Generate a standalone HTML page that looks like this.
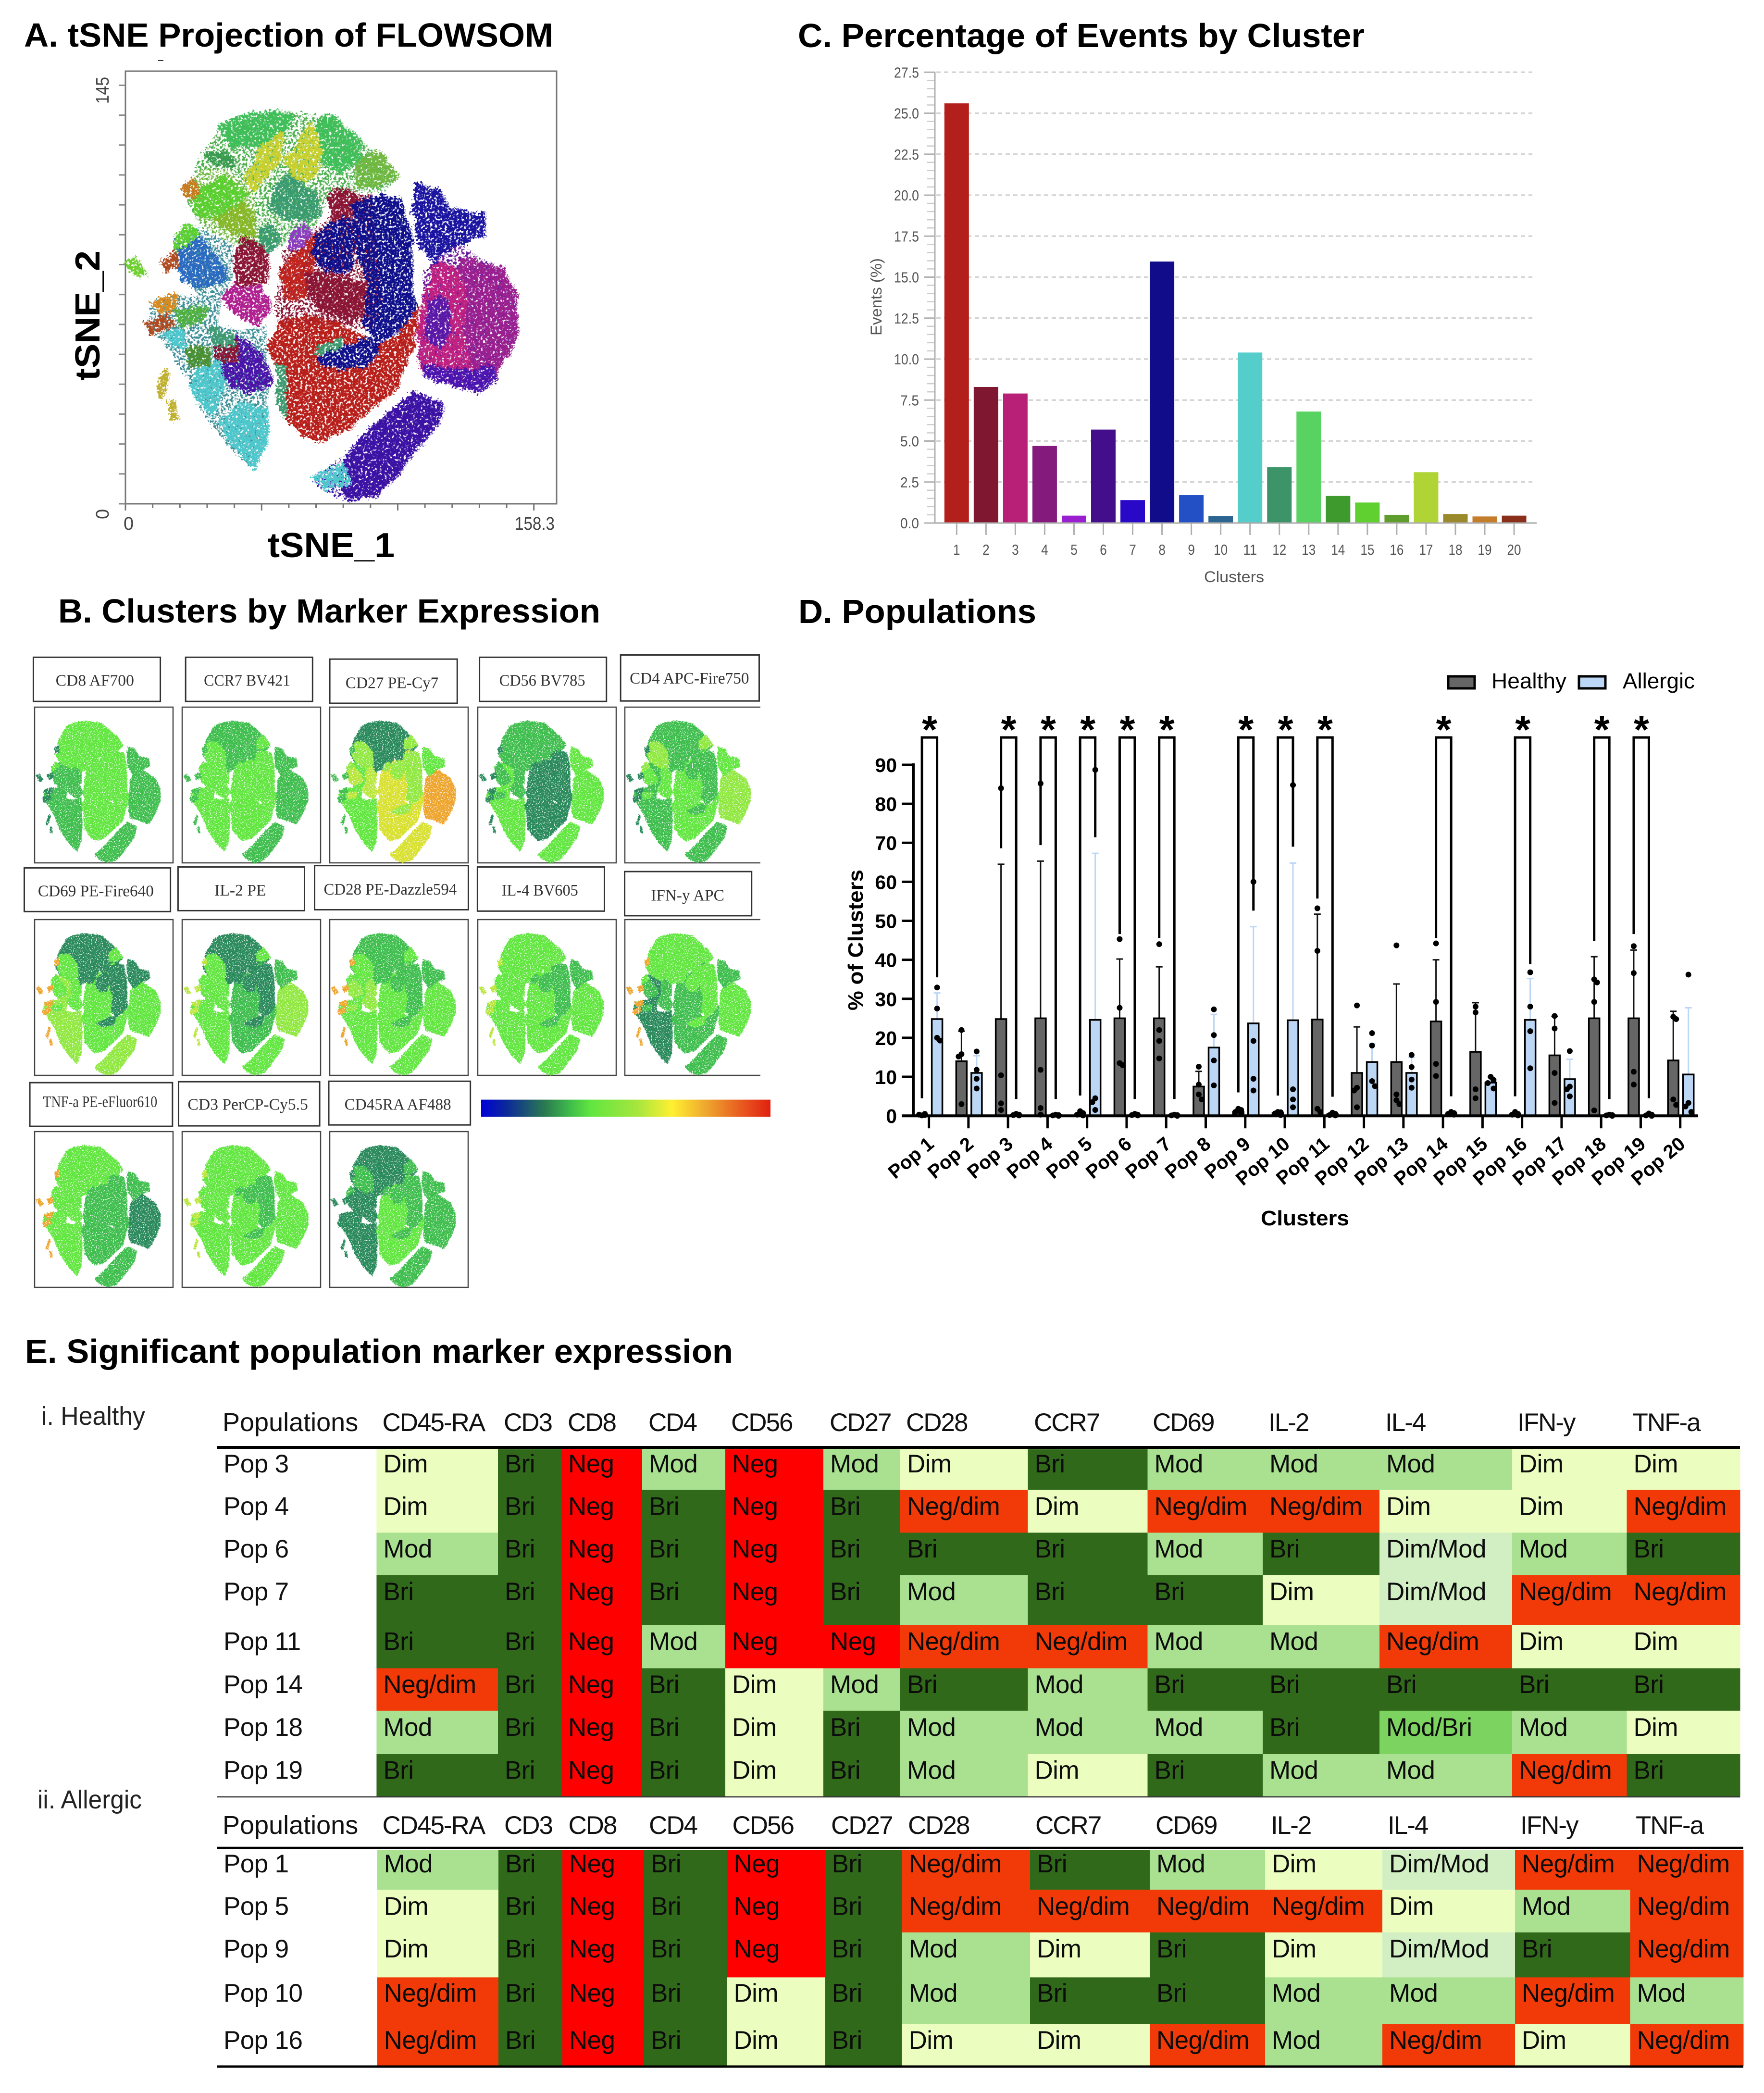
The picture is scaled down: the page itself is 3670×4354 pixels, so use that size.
<!DOCTYPE html>
<html lang="en">
<head>
<meta charset="utf-8">
<title>Flow cytometry figure: FLOWSOM clusters</title>
<style>
html,body{margin:0;padding:0;background:#fff;}
svg{display:block;}
text{font-family:"Liberation Sans",sans-serif;}
.ttl{font-weight:bold;font-size:70px;fill:#000;}
</style>
</head>
<body>
<svg id="fig" xmlns="http://www.w3.org/2000/svg" width="3670" height="4354" viewBox="0 0 3670 4354">
<defs>
<filter id="speckle-main" x="-4%" y="-4%" width="108%" height="108%" color-interpolation-filters="sRGB">
<feTurbulence type="fractalNoise" baseFrequency="0.035" numOctaves="2" seed="7" result="n0"/>
<feDisplacementMap in="SourceGraphic" in2="n0" scale="20" xChannelSelector="R" yChannelSelector="G" result="d0"/>
<feTurbulence type="fractalNoise" baseFrequency="0.2" numOctaves="2" seed="4" result="n"/>
<feDisplacementMap in="d0" in2="n" scale="22" xChannelSelector="R" yChannelSelector="G" result="d"/>
<feColorMatrix in="n" type="matrix" values="0 0 0 0 0 0 0 0 0 0 0 0 0 0 0 7 0 0 0 -2.2" result="m"/>
<feComposite in="d" in2="m" operator="in"/>
</filter>
<filter id="speckle-sparse" x="-4%" y="-4%" width="108%" height="108%" color-interpolation-filters="sRGB">
<feTurbulence type="fractalNoise" baseFrequency="0.2" numOctaves="2" seed="12" result="n"/>
<feDisplacementMap in="SourceGraphic" in2="n" scale="24" xChannelSelector="R" yChannelSelector="G" result="d"/>
<feColorMatrix in="n" type="matrix" values="0 0 0 0 0 0 0 0 0 0 0 0 0 0 0 8 0 0 0 -3.7" result="m"/>
<feComposite in="d" in2="m" operator="in"/>
</filter>
<filter id="speckle-thumb" x="-4%" y="-4%" width="108%" height="108%" color-interpolation-filters="sRGB">
<feTurbulence type="fractalNoise" baseFrequency="0.4" numOctaves="2" seed="9" result="n"/>
<feDisplacementMap in="SourceGraphic" in2="n" scale="7" xChannelSelector="R" yChannelSelector="G" result="d"/>
<feColorMatrix in="n" type="matrix" values="0 0 0 0 0 0 0 0 0 0 0 0 0 0 0 7 0 0 0 -1.9" result="m"/>
<feComposite in="d" in2="m" operator="in"/>
</filter>
<linearGradient id="expression-gradient" x1="0" x2="1" y1="0" y2="0">
<stop offset="0" stop-color="#0000d8"/><stop offset="0.09" stop-color="#0c2a98"/><stop offset="0.22" stop-color="#2a7a50"/><stop offset="0.31" stop-color="#3fbe4a"/><stop offset="0.38" stop-color="#62e640"/><stop offset="0.54" stop-color="#a6e63e"/><stop offset="0.66" stop-color="#fff030"/><stop offset="0.78" stop-color="#eea52e"/><stop offset="0.9" stop-color="#e85a20"/><stop offset="1" stop-color="#e02010"/>
</linearGradient>
</defs>
<rect x="0" y="0" width="3670" height="4354" fill="#fff"/>

<text class="ttl" x="50" y="97" textLength="1101" lengthAdjust="spacingAndGlyphs">A. tSNE Projection of FLOWSOM</text>
<rect x="318" y="106" width="34" height="18" fill="#fff"/>
<rect x="329" y="125" width="11" height="2" fill="#333"/>
<text class="ttl" x="1660" y="98" textLength="1179" lengthAdjust="spacingAndGlyphs">C. Percentage of Events by Cluster</text>
<text class="ttl" x="121" y="1295" textLength="1128" lengthAdjust="spacingAndGlyphs">B. Clusters by Marker Expression</text>
<text class="ttl" x="1661" y="1296" textLength="495" lengthAdjust="spacingAndGlyphs">D. Populations</text>
<text class="ttl" x="52" y="2835" textLength="1473" lengthAdjust="spacingAndGlyphs">E. Significant population marker expression</text>

<g id="panel-a"></g>
<g id="panel-b"></g>
<g id="panel-c"></g>
<g id="panel-d"></g>
<g id="panel-e"></g>
</svg>

<script>
/* ---------- Panel C data ---------- */
var eventClusters = ["1","2","3","4","5","6","7","8","9","10","11","12","13","14","15","16","17","18","19","20"];
var eventPercent = [25.6,8.3,7.9,4.7,0.45,5.7,1.4,15.95,1.7,0.42,10.4,3.4,6.8,1.65,1.25,0.5,3.1,0.55,0.4,0.45];
var eventColors = ["#b3201c","#801730","#b82077","#851a7d","#9a1fd0","#430d8c","#2a08c8","#100c8a","#2350c5","#2b6590","#55cdcb","#3d9468","#58d260","#3f9a2e","#60d030","#5f9e2c","#b0d435","#9a8a2c","#c47d2a","#8a2f1a"];
var eventTicks = [0,2.5,5,7.5,10,12.5,15,17.5,20,22.5,25,27.5];

/* ---------- Panel D data ---------- */
var popLabels = ["Pop 1","Pop 2","Pop 3","Pop 4","Pop 5","Pop 6","Pop 7","Pop 8","Pop 9","Pop 10","Pop 11","Pop 12","Pop 13","Pop 14","Pop 15","Pop 16","Pop 17","Pop 18","Pop 19","Pop 20"];
var healthyMeans = [0.3,14,24.8,25,0.4,25,25,7.5,1,0.7,24.7,11,13.8,24.2,16.4,0.4,15.5,25,25,14.2];
var allergicMeans = [24.8,11,0.3,0.2,24.6,0.3,0.2,17.5,23.7,24.5,0.4,13.8,11,0.6,8.5,24.6,9.4,0.2,0.3,10.6];
var healthyErrorTops = [0,21.7,64.5,65.3,0,40.2,38.2,11.4,0,0,51.7,22.8,33.8,40,29,0,25.5,40.8,42.5,26.8];
var allergicErrorTops = [31.5,15.4,0,0,67.3,0,0,26,48.5,64.8,0,18.5,15,0,10,35.2,14.5,0,0,27.7];
var healthyPoints = [[0.1,0.2,0.3,0.5],[22,15.8,15.2,3],[84,10.4,3.2,1.5],[85.2,11.8,2,0.3],[1.2,0.7,0.3,0.1],[45.3,27.7,13.5,13],[44,22,19.2,14.7],[12.6,8,5.5,4.2],[1.8,1.5,1,0.7],[1,0.9,0.6,0.2],[53.2,42.3,1.8,1],[28.3,7.2,6.5,2.2],[43.7,5.5,4,3],[44.2,29.2,13.3,10.2],[28,26.5,6.8,4.5],[1,0.5,0.3,0.1],[25.6,22.4,11,3.3],[35,34.2,29.2,1.4],[43.5,36.6,11.3,8],[25.4,24.8,4.2,2.8]];
var allergicPoints = [[32.9,27.5,20,19.3],[16.5,11.8,9.5,7],[0.5,0.3,0.2,0.1],[0.3,0.2,0.1,0],[88.7,4.5,3.5,1.5],[0.5,0.3,0.2,0.1],[0.3,0.2,0.1,0],[27.3,20.7,14.2,7.8],[60,19.2,9.5,6.5],[84.8,6.8,4.2,2.2],[0.8,0.5,0.2,0.1],[21.2,18,8.9,7.6],[15.6,12.5,9.3,7.2],[1,0.7,0.5,0.3],[10,9.2,8.4,7],[36.8,28,21.7,12.2],[16.6,7.5,6.8,5],[0.3,0.2,0.1,0],[0.6,0.3,0.1,0],[36.2,3.3,2.4,1]];
var significantPops = [1,3,4,5,6,7,9,10,11,14,16,18,19];
var bracketHealthyEnds = [4.5,68.6,69.4,5.2,46.6,45.6,6,5.2,55.7,45.6,5,44.8,46.6];
var bracketAllergicEnds = [35.5,4.3,4.3,71.4,4.3,4.3,52.6,69,4.9,5,38.9,4.3,4.5];
var popAxisTicks = [0,10,20,30,40,50,60,70,80,90];

/* ---------- Panel E data ---------- */
var markerColumns = ["CD45-RA","CD3","CD8","CD4","CD56","CD27","CD28","CCR7","CD69","IL-2","IL-4","IFN-y","TNF-a"];
var healthyRowNames = ["Pop 3","Pop 4","Pop 6","Pop 7","Pop 11","Pop 14","Pop 18","Pop 19"];
var healthyLevels = [
["Dim","Bri","Neg","Mod","Neg","Mod","Dim","Bri","Mod","Mod","Mod","Dim","Dim"],
["Dim","Bri","Neg","Bri","Neg","Bri","Neg/dim","Dim","Neg/dim","Neg/dim","Dim","Dim","Neg/dim"],
["Mod","Bri","Neg","Bri","Neg","Bri","Bri","Bri","Mod","Bri","Dim/Mod","Mod","Bri"],
["Bri","Bri","Neg","Bri","Neg","Bri","Mod","Bri","Bri","Dim","Dim/Mod","Neg/dim","Neg/dim"],
["Bri","Bri","Neg","Mod","Neg","Neg","Neg/dim","Neg/dim","Mod","Mod","Neg/dim","Dim","Dim"],
["Neg/dim","Bri","Neg","Bri","Dim","Mod","Bri","Mod","Bri","Bri","Bri","Bri","Bri"],
["Mod","Bri","Neg","Bri","Dim","Bri","Mod","Mod","Mod","Bri","Mod/Bri","Mod","Dim"],
["Bri","Bri","Neg","Bri","Dim","Bri","Mod","Dim","Bri","Mod","Mod","Neg/dim","Bri"]];
var allergicRowNames = ["Pop 1","Pop 5","Pop 9","Pop 10","Pop 16"];
var allergicLevels = [
["Mod","Bri","Neg","Bri","Neg","Bri","Neg/dim","Bri","Mod","Dim","Dim/Mod","Neg/dim","Neg/dim"],
["Dim","Bri","Neg","Bri","Neg","Bri","Neg/dim","Neg/dim","Neg/dim","Neg/dim","Dim","Mod","Neg/dim"],
["Dim","Bri","Neg","Bri","Neg","Bri","Mod","Dim","Bri","Dim","Dim/Mod","Bri","Neg/dim"],
["Neg/dim","Bri","Neg","Bri","Dim","Bri","Mod","Bri","Bri","Mod","Mod","Neg/dim","Mod"],
["Neg/dim","Bri","Neg","Bri","Dim","Bri","Dim","Dim","Neg/dim","Mod","Neg/dim","Dim","Neg/dim"]];

/* ---------- Panels A/B data: cluster density outlines in tSNE units ---------- */
var tsneUnderlay = [
{g:"T",c:"#4fb050",p:[[28,118],[38,131],[60,136],[80,134],[92,126],[106,113],[100,108],[90,108],[80,108],[75,97],[62,90],[52,88],[42,90],[30,96],[24,104]]},
{g:"E",c:"#70b840",p:[[24,108],[30,97],[42,90],[52,92],[50,108],[40,116],[30,116]]},
{g:"W",c:"#3f8f98",p:[[19,92],[28,96],[42,90],[42,78],[38,72],[36,62],[45,60],[55,62],[56,40],[55,22],[50,12],[40,20],[30,32],[24,44],[15,56],[9,62],[11,70],[19,72],[28,72]]},
{g:"C",c:"#8a1535",p:[[58,68],[62,88],[75,96],[89,106],[96,108],[100,70],[96,60],[80,62],[60,62]]},
{g:"R",c:"#6a1a9a",p:[[114,50],[116,80],[120,85],[129,90],[146,81],[152,70],[152,60],[147,50],[138,38],[124,42],[116,44]]},
{g:"B",c:"#3c12a5",p:[[73,8],[84,16],[100,30],[112,39],[123,35],[120,25],[106,10],[98,3],[87,1],[78,4]]}
];
var tsneRegions = [
{g:"R",c:"#9a1f8f",p:[[130,85],[146,81],[152,71],[152,60.5],[147.5,51],[141,42],[137,39],[126,42],[121,58],[124,76]]},
{g:"R",c:"#c0207f",p:[[115,67],[120,84],[129,81],[132,71],[130.5,58],[133.5,47.5],[124,46],[115,47],[114,54]]},
{g:"R",c:"#4a14b0",p:[[116,48],[126,46],[143,47],[142,42],[137,39],[124,42],[116,44]]},
{g:"R",c:"#5a18a8",p:[[118,70],[124,72],[126,60],[122,54],[117,58]]},
{g:"K",c:"#1a14a0",p:[[113,111],[121,109],[126,102],[138,100],[139,93],[129,90],[120,84],[113.5,92],[112,102]]},
{g:"C",c:"#b81f1a",p:[[56,55],[61,63],[73,65],[86,60.5],[98,55],[106,58],[113,67],[113,60.5],[109,50],[106,41],[95,33],[83,24],[72,22],[64,28],[60,37],[59.5,46]]},
{g:"C",c:"#c0241c",p:[[60,81],[69,89],[76.5,94],[73,84],[70,72],[62.5,71]]},
{g:"C",c:"#8a1535",p:[[70,80],[83,79],[93.5,76],[95,68],[87,63],[76.5,67],[72,72]]},
{g:"T",c:"#8a1535",p:[[79.5,107],[87,109],[92,104.5],[84,97],[79.5,100.5]]},
{g:"N",c:"#10108c",p:[[89,104.5],[99.5,107],[107,106],[110.5,94],[111,81],[111,71],[112,67],[106,60.5],[98,56.5],[92.5,63],[95,76],[92,81],[90,93]]},
{g:"N",c:"#10108c",p:[[75,94],[84,99],[89,97],[89.5,89],[86,81],[78,81],[73,86.5]]},
{g:"N",c:"#10108c",p:[[75,50],[87,55],[98,57],[95,49],[84,47],[75,49.5]]},
{g:"C",c:"#3f9a70",p:[[74,53],[84,58],[84.5,55],[76.5,52]]},
{g:"N",c:"#8b3fc0",p:[[64,93],[70,97],[73,94],[69,89],[64,89]]},
{g:"C",c:"#3f9a70",p:[[59,47.5],[62,47.5],[62,31],[60,32]]},
{g:"B",c:"#3c12a5",p:[[86,16.5],[99.5,29.5],[112,38.5],[123,34],[120,25.5],[112,20],[106,11],[98,3.5],[87,1.5],[83,7.5]]},
{g:"B",c:"#4ec8cc",p:[[73,9],[84,14],[87,7.5],[78,5.5]]},
{g:"W",c:"#4ec8cc",p:[[37,28],[44,34.5],[55,33],[55,21.5],[50,12.5],[42.5,20]]},
{g:"W",c:"#4ec8cc",p:[[25.5,40],[28.5,47.5],[38,50],[38,40],[33,31]]},
{g:"W",c:"#4ec8cc",p:[[15.5,58],[21,60.5],[24,54],[18,54]]},
{g:"W",c:"#4a14a8",p:[[38,50],[44,58],[53,51],[56.5,41],[47,38.5],[39.5,42.5]]},
{g:"W",c:"#8a1535",p:[[35,54],[44,56.5],[42.5,50],[36,50]]},
{g:"X",c:"#b02090",p:[[38,71],[42.5,76],[53,75],[56.5,68],[52,62],[42.5,66]]},
{g:"X",c:"#8a1535",p:[[42.5,86.5],[47,92],[55,89],[55,77],[44,76]]},
{g:"X",c:"#2a6ac0",p:[[19.5,86.5],[27,92],[33,88],[38.5,81],[38,78],[28.5,75],[22.5,77.5]]},
{g:"T",c:"#3fbf5a",p:[[37,130.5],[45.5,134],[59.5,136],[65.5,134],[59.5,126.5],[50,124],[41,123.5]]},
{g:"T",c:"#3fbf5a",p:[[75,133],[79.5,134],[90,126.5],[92,120],[84,115],[76.5,119],[75,125]]},
{g:"T",c:"#3a9a50",p:[[31.5,121.5],[38,121.5],[42.5,117.5],[36,117.5]]},
{g:"E",c:"#70b840",p:[[90,117.5],[98,122.5],[106,113.5],[98,110],[90,110]]},
{g:"T",c:"#c8d030",p:[[47,113.5],[53,124],[61,128],[59.5,119],[50,108.5]]},
{g:"T",c:"#c8d030",p:[[62.5,119],[72,132],[76.5,123],[75,115],[65.5,111]]},
{g:"E",c:"#88b828",p:[[35,99.5],[41,107],[48.5,102],[50,93],[42.5,93]]},
{g:"T",c:"#3a9a70",p:[[58,108.5],[62.5,113.5],[73.5,108.5],[75,99.5],[62.5,98],[56.5,102]]},
{g:"T",c:"#3a9a70",p:[[52,94],[58,97],[59.5,90],[55,87.5]]},
{g:"E",c:"#5ad030",p:[[25.5,107],[38,113.5],[47,107],[38,100.5],[28.5,99.5]]},
{g:"E",c:"#5ad030",p:[[19.5,91.5],[24,97],[28.5,93],[19.5,88]]},
{g:"F",c:"#6ed030",p:[[0.5,84],[4,85],[8,80],[4.5,78.5]]},
{g:"F",c:"#c87a20",p:[[23,110],[27,112.5],[28.5,107],[24,106]]},
{g:"F",c:"#d88a20",p:[[10,69.5],[19.5,72],[19.5,67],[13,67]]},
{g:"F",c:"#b04a20",p:[[8,62],[16,65.5],[18,62],[10,58.5]]},
{g:"F",c:"#b04a20",p:[[14,84.5],[19.5,86.5],[21,82.5],[16,80.5]]},
{g:"F",c:"#c0b030",p:[[12.5,38],[16,46],[17,45],[14,37]]},
{g:"F",c:"#c0b030",p:[[17,34.5],[18.5,34.5],[19.5,29.5],[18,29.5]]},
{g:"X",c:"#4fb040",p:[[19.5,67],[31.5,68],[30,63],[21,62]]},
{g:"W",c:"#3f9a70",p:[[33,60.5],[42.5,59],[42.5,55],[35,55]]},
{g:"W",c:"#4a9030",p:[[24,53],[33,54],[31.5,49],[25.5,48]]}
];
var markerNames = ["CD8 AF700","CCR7 BV421","CD27 PE-Cy7","CD56 BV785","CD4 APC-Fire750","CD69 PE-Fire640","IL-2 PE","CD28 PE-Dazzle594","IL-4 BV605","IFN-y APC","TNF-a PE-eFluor610","CD3 PerCP-Cy5.5","CD45RA AF488"];
var markerExpression = [
{T:"L",E:"L",N:"L",C:"L",R:"M",K:"M",B:"M",W:"M",X:"M",F:"D"},
{T:"M",E:"L",N:"L",C:"L",R:"M",K:"M",B:"M",W:"L",X:"L",F:"M"},
{T:"D",E:"H",N:"H",C:"A",R:"O",K:"L",B:"A",W:"L",X:"Y",F:"M"},
{T:"M",E:"M",N:"D",C:"D",R:"L",K:"L",B:"L",W:"L",X:"M",F:"D"},
{T:"M",E:"H",N:"M",C:"L",R:"H",K:"L",B:"M",W:"M",X:"L",F:"D"},
{T:"D",E:"L",N:"D",C:"L",R:"L",K:"D",B:"H",W:"H",X:"L",F:"O"},
{T:"D",E:"L",N:"D",C:"M",R:"H",K:"M",B:"L",W:"L",X:"L",F:"Y"},
{T:"M",E:"L",N:"M",C:"L",R:"L",K:"M",B:"L",W:"L",X:"H",F:"O"},
{T:"L",E:"L",N:"M",C:"L",R:"L",K:"M",B:"L",W:"L",X:"L",F:"Y"},
{T:"L",E:"L",N:"L",C:"M",R:"L",K:"M",B:"M",W:"D",X:"M",F:"O"},
{T:"L",E:"L",N:"M",C:"M",R:"D",K:"M",B:"M",W:"L",X:"L",F:"O"},
{T:"L",E:"L",N:"M",C:"L",R:"L",K:"L",B:"L",W:"L",X:"L",F:"Y"},
{T:"D",E:"M",N:"M",C:"L",R:"M",K:"M",B:"M",W:"D",X:"D",F:"D"}
];

var NS = "http://www.w3.org/2000/svg";
function mk(tag, attrs, parent, txt) {
  var e = document.createElementNS(NS, tag);
  for (var k in attrs) e.setAttribute(k, attrs[k]);
  if (txt !== undefined) e.textContent = txt;
  if (parent) parent.appendChild(e);
  return e;
}

/* ================= Panel A ================= */
(function () {
  var root = document.getElementById("panel-a");
  function tx(t) { return 261 + t / 158.3 * 849.7; }
  function ty(t) { return 1048 - t / 145 * 870.6; }
  function ptsOf(r) { return r.p.map(function (q) { return tx(q[0]).toFixed(1) + "," + ty(q[1]).toFixed(1); }).join(" "); }
  var frame = mk("rect", {x:261,y:148,width:897,height:900,fill:"#fff",stroke:"#777","stroke-width":3}, root);
  
  
  var under = mk("g", {filter:"url(#speckle-sparse)"}, root);
  
  
  tsneUnderlay.forEach(function (r) {
    var poly0 = mk("polygon", {points:ptsOf(r), fill:r.c}, under);
    
    
  });
  var cloud = mk("g", {filter:"url(#speckle-main)"}, root);
  
  
  tsneRegions.forEach(function (r) {
    var poly = mk("polygon", {points:ptsOf(r), fill:r.c, stroke:r.c, "stroke-width":8, "stroke-linejoin":"round"}, cloud);
    
    
  });
  var i;
  for (i = 0; i <= 15; i++) {
    var v = 158.3 * i / 15;
    var tk = mk("line", {x1:tx(v),x2:tx(v),y1:1048,y2:1048+(i % 5 === 0 ? 14 : 9),stroke:"#777","stroke-width":3}, root);
    
    
  }
  for (i = 0; i <= 14; i++) {
    var w = 145 * i / 14;
    var tk2 = mk("line", {x1:261-14,x2:261,y1:ty(w),y2:ty(w),stroke:"#888","stroke-width":3}, root);
    
    
  }
  var a = mk("text", {x:257,y:1102,"font-size":38,fill:"#444"}, root, "0");
  
  
  var b = mk("text", {x:1071,y:1102,"font-size":38,fill:"#444",textLength:83,lengthAdjust:"spacingAndGlyphs"}, root, "158.3");
  
  
  var c = mk("text", {transform:"translate(226,216) rotate(-90)","font-size":38,fill:"#444",textLength:56,lengthAdjust:"spacingAndGlyphs"}, root, "145");
  
  
  var d = mk("text", {transform:"translate(226,1080) rotate(-90)","font-size":38,fill:"#444"}, root, "0");
  
  
  var e = mk("text", {x:557,y:1159,"font-size":72,"font-weight":"bold",fill:"#000",textLength:264,lengthAdjust:"spacingAndGlyphs"}, root, "tSNE_1");
  
  
  var f = mk("text", {transform:"translate(207,792) rotate(-90)","font-size":72,"font-weight":"bold",fill:"#000",textLength:271,lengthAdjust:"spacingAndGlyphs"}, root, "tSNE_2");
  
  
})();

/* ================= Panel B ================= */
(function () {
  var root = document.getElementById("panel-b");
  var palette = {L:"#62e640",M:"#3fbe4e",D:"#2a8a5c",Y:"#b9e63c",O:"#eea52e",A:"#d8e030",H:"#90e840"};
  var colX = [72,379,686,994,1300];
  var rowY = [1471,1913,2354];
  var labelBoxes = [[66,154,317,250,110,265,216],[367,154,618,250,403,574,216],[652,158,904,254,683,867,221],[948,154,1199,250,987,1157,216],[1227,149,1501,249,1245,1481,211],[48,612,337,707,75,304,674],[352,610,602,705,424,526,672],[622,607,926,703,640,903,670],[944,610,1195,706,992,1143,672],[1235,620,1486,716,1287,1432,683],[59,1079,341,1174,85,311,1132],[353,1077,632,1173,371,609,1138],[650,1076,930,1171,681,892,1138]];
  function lx(z) { return z * 1.0523; }
  function ly(z) { return 1220 + z * 0.9566; }
  var thumbAll = tsneUnderlay.concat(tsneRegions);
  markerNames.forEach(function (name, i) {
    var col = i % 5, row = Math.floor(i / 5);
    var bx = colX[col], by = rowY[row], bw = col === 4 ? 282 : 288, bh = 324;
    var map = mk("g", {}, root);
    
    
    var frame;
    if (col === 4) {
      frame = mk("path", {d:"M"+(bx+bw)+" "+by+"H"+bx+"V"+(by+bh)+"H"+(bx+bw),fill:"#fff",stroke:"#444","stroke-width":2.5}, map);
    } else {
      frame = mk("rect", {x:bx,y:by,width:bw,height:bh,fill:"#fff",stroke:"#444","stroke-width":2.5}, map);
    }
    
    
    var cloud = mk("g", {filter:"url(#speckle-thumb)"}, map);
    
    
    var levels = markerExpression[i];
    thumbAll.forEach(function (r) {
      var pts = r.p.map(function (q) {
        var px = bx + 4.2 + 1.694 * (q[0] - 0.5);
        var py = by + (31 + (136 - q[1]) * 2.268) * 0.9566;
        return px.toFixed(1) + "," + py.toFixed(1);
      }).join(" ");
      var col2 = palette[levels[r.g]];
      var poly = mk("polygon", {points:pts, fill:col2, stroke:col2, "stroke-width":3, "stroke-linejoin":"round"}, cloud);
      
      
    });
    var b = labelBoxes[i];
    var box = mk("rect", {x:lx(b[0]),y:ly(b[1]),width:lx(b[2])-lx(b[0]),height:ly(b[3])-ly(b[1]),fill:"#fff",stroke:"#333","stroke-width":3}, root);
    
    
    var t = mk("text", {x:lx(b[4]),y:ly(b[6]),"font-size":34,fill:"#333",textLength:lx(b[5])-lx(b[4]),lengthAdjust:"spacingAndGlyphs",style:"font-family:'Liberation Serif',serif"}, root, name);
    
    
  });
  var bar = mk("rect", {x:1001,y:2287.6,width:602,height:35.4,fill:"url(#expression-gradient)"}, root);
  
  
})();

/* ================= Panel C ================= */
(function () {
  var root = document.getElementById("panel-c");
  function x(i) { return 1990.3 + 61.04 * i; }
  function y(v) { return 1088 - 34.1 * v; }
  eventTicks.forEach(function (v) {
    if (v > 0) {
      var g = mk("line", {x1:1948,x2:3188,y1:y(v),y2:y(v),stroke:"#d4d4d4","stroke-width":3.5,"stroke-dasharray":"9 7"}, root);
      
      
    }
    var t = mk("line", {x1:1923,x2:1945,y1:y(v),y2:y(v),stroke:"#b0b0b0","stroke-width":3}, root);
    
    
    var s = v.toFixed(1);
    var l = mk("text", {x:1912,y:y(v)+11,"text-anchor":"end","font-size":31,fill:"#555",textLength:s.length*13,lengthAdjust:"spacingAndGlyphs"}, root, s);
    
    
  });
  for (var m = 0; m <= 55; m++) {
    if (m % 5 === 0) continue;
    var mv = m * 0.5;
    var mt = mk("line", {x1:1929,x2:1945,y1:y(mv),y2:y(mv),stroke:"#ccc","stroke-width":2.5}, root);
    
    
  }
  var ax = mk("line", {x1:1945,x2:1945,y1:y(27.5),y2:y(0),stroke:"#b0b0b0","stroke-width":3}, root);
  
  
  eventPercent.forEach(function (v, i) {
    var r = mk("rect", {x:x(i)-25.5,y:y(v),width:51,height:y(0)-y(v),fill:eventColors[i]}, root);
    
    
    var t = mk("line", {x1:x(i),x2:x(i),y1:y(0),y2:y(0)+25,stroke:"#b0b0b0","stroke-width":3}, root);
    
    
    var n = eventClusters[i];
    var l = mk("text", {x:x(i),y:1154,"text-anchor":"middle","font-size":31,fill:"#555",textLength:n.length*14.5,lengthAdjust:"spacingAndGlyphs"}, root, n);
    
    
  });
  var bx = mk("line", {x1:1945,x2:3197,y1:y(0),y2:y(0),stroke:"#aaa","stroke-width":3}, root);
  
  
  var xt = mk("text", {x:2505,y:1211,"font-size":32,fill:"#555",textLength:125,lengthAdjust:"spacingAndGlyphs"}, root, "Clusters");
  
  
  var yt = mk("text", {transform:"translate(1834,698) rotate(-90)","font-size":32,fill:"#555",textLength:161,lengthAdjust:"spacingAndGlyphs"}, root, "Events (%)");
  
  
})();

/* ================= Panel D ================= */
(function () {
  var root = document.getElementById("panel-d");
  function x(i) { return 1932.6 + 82.27 * i; }
  function y(v) { return 2321.2 - 8.114 * v; }
  var offH = -14.5, offA = 17, barW = 22;
  function errorBar(i, off, top, mean, col, name) {
    if (!top) return;
    var a = mk("line", {x1:x(i)+off,x2:x(i)+off,y1:y(mean),y2:y(top),stroke:col,"stroke-width":3}, root);
    
    
    var b = mk("line", {x1:x(i)+off-7,x2:x(i)+off+7,y1:y(top),y2:y(top),stroke:col,"stroke-width":3}, root);
    
    
  }
  popLabels.forEach(function (lab, i) {
    errorBar(i, offH, healthyErrorTops[i], healthyMeans[i], "#111", "healthy-error-bar");
    errorBar(i, offA, allergicErrorTops[i], allergicMeans[i], "#bcd6f5", "allergic-error-bar");
    var h = mk("rect", {x:x(i)+offH-barW/2,y:y(healthyMeans[i]),width:barW,height:y(0)-y(healthyMeans[i]),fill:"#666",stroke:"#000","stroke-width":3.5}, root);
    
    
    var a = mk("rect", {x:x(i)+offA-barW/2,y:y(allergicMeans[i]),width:barW,height:y(0)-y(allergicMeans[i]),fill:"#bcd6f5",stroke:"#000","stroke-width":3.5}, root);
    
    
  });
  significantPops.forEach(function (pop, k) {
    var i = pop - 1;
    var xl = x(i) + offH, xr = x(i) + offA;
    var p = mk("path", {d:"M"+xl+" "+y(bracketHealthyEnds[k])+"V"+y(97)+"H"+xr+"V"+y(bracketAllergicEnds[k]),fill:"none",stroke:"#000","stroke-width":5}, root);
    
    
    var s = mk("text", {x:x(i)+1.5,y:1546,"text-anchor":"middle","font-size":82,"font-weight":"bold",fill:"#000"}, root, "*");
    
    
  });
  function dots(i, off, vals, name) {
    vals.forEach(function (v, j) {
      var near = j > 0 && Math.abs(vals[j-1] - v) < 1.5;
      var c = mk("circle", {cx:x(i)+off+(near ? (j % 2 ? 6 : -6) : 0),cy:y(v),r:6,fill:"#000"}, root);
      
      
    });
  }
  popLabels.forEach(function (lab, i) {
    dots(i, offH, healthyPoints[i], "healthy-point");
    dots(i, offA, allergicPoints[i], "allergic-point");
  });
  var ya = mk("line", {x1:1900,x2:1900,y1:y(90)-3,y2:y(0),stroke:"#000","stroke-width":6}, root);
  
  
  var xa = mk("line", {x1:1876,x2:3533,y1:y(0),y2:y(0),stroke:"#000","stroke-width":6}, root);
  
  
  popAxisTicks.forEach(function (v) {
    var t = mk("line", {x1:1876,x2:1900,y1:y(v),y2:y(v),stroke:"#000","stroke-width":5}, root);
    
    
    var l = mk("text", {x:1866,y:y(v)+15,"text-anchor":"end","font-size":41,"font-weight":"bold",fill:"#000"}, root, String(v));
    
    
  });
  popLabels.forEach(function (lab, i) {
    var t = mk("line", {x1:x(i),x2:x(i),y1:y(0),y2:y(0)+26,stroke:"#000","stroke-width":5}, root);
    
    
    var l = mk("text", {transform:"translate("+(x(i)+13)+",2384) rotate(-40)","text-anchor":"end","font-size":40,"font-weight":"bold",fill:"#000"}, root, lab);
    
    
  });
  var yt = mk("text", {transform:"translate(1795,2102) rotate(-90)","font-size":44,"font-weight":"bold",fill:"#000",textLength:293,lengthAdjust:"spacingAndGlyphs"}, root, "% of Clusters");
  
  
  var xt = mk("text", {x:2623,y:2549,"font-size":44,"font-weight":"bold",fill:"#000",textLength:184,lengthAdjust:"spacingAndGlyphs"}, root, "Clusters");
  
  
  var s1 = mk("rect", {x:3013,y:1407,width:55,height:25,fill:"#666",stroke:"#000","stroke-width":5}, root);
  
  
  var t1 = mk("text", {x:3103,y:1432,"font-size":45,fill:"#000",textLength:156,lengthAdjust:"spacingAndGlyphs"}, root, "Healthy");
  
  
  var s2 = mk("rect", {x:3285,y:1407,width:55,height:25,fill:"#bcd6f5",stroke:"#000","stroke-width":5}, root);
  
  
  var t2 = mk("text", {x:3376,y:1432,"font-size":45,fill:"#000",textLength:150,lengthAdjust:"spacingAndGlyphs"}, root, "Allergic");
  
  
})();

/* ================= Panel E ================= */
(function () {
  var root = document.getElementById("panel-e");
  var levelColors = {"Bri":"#31691b","Neg":"#fe0000","Neg/dim":"#f23a08","Dim":"#ecfdc0","Mod":"#a9e191","Dim/Mod":"#d2efc4","Mod/Bri":"#7dd35f"};
  function table(opts) {
    var g = mk("g", {}, root);
    
    
    opts.rows.forEach(function (rowVals, r) {
      rowVals.forEach(function (lv, c) {
        var cell = mk("rect", {x:opts.edges[c],y:opts.rowEdges[r],width:opts.edges[c+1]-opts.edges[c]+0.5,height:opts.rowEdges[r+1]-opts.rowEdges[r]+0.5,fill:levelColors[lv]}, g);
        
        
        var t = mk("text", {x:opts.edges[c]+14,y:opts.base[r],"font-size":53,"letter-spacing":"-0.6",fill:"#0c0c0c"}, g, lv);
        
        
      });
      var rn = mk("text", {x:465,y:opts.base[r],"font-size":53,"letter-spacing":"-0.6",fill:"#111"}, g, opts.names[r]);
      
      
    });
    var hp = mk("text", {x:463,y:opts.headY,"font-size":54,fill:"#111"}, g, "Populations");
    
    
    markerColumns.forEach(function (m, c) {
      var ht = mk("text", {x:opts.headX[c]-2,y:opts.headY,"font-size":53,"letter-spacing":"-2",fill:"#111"}, g, m);
      
      
    });
    var hl = mk("line", {x1:451,x2:opts.edges[13],y1:opts.headLine,y2:opts.headLine,stroke:"#000","stroke-width":opts.headW}, g);
    
    
    var bl = mk("line", {x1:451,x2:opts.edges[13],y1:opts.botLine,y2:opts.botLine,stroke:opts.botC,"stroke-width":opts.botW}, g);
    
    
  }
  table({
    name:"healthy-table", rows:healthyLevels, names:healthyRowNames,
    edges:[783.4,1036,1168,1336,1509,1713,1873,2138.5,2387.5,2627,2870,3146,3384.5,3620],
    rowEdges:[3014.4,3099,3188.4,3276.7,3380,3470.4,3558.8,3649,3737.4],
    base:[3063,3151.6,3240,3329,3432.6,3522,3611,3700.6],
    headY:2977, headX:[797.5,1050,1183,1351,1523,1728,1887,2153,2400,2641,2884,3159,3398.5],
    headLine:3011, headW:6, botLine:3738, botW:2.5, botC:"#333"
  });
  table({
    name:"allergic-table", rows:allergicLevels, names:allergicRowNames,
    edges:[784.6,1037,1170,1340,1512.5,1716.6,1876.6,2143,2392,2632,2876,3152,3391.5,3627],
    rowEdges:[3848,3931,4020,4113.4,4210,4297.7],
    base:[3895,3983.6,4072,4164,4262],
    headY:3815, headX:[797.5,1051,1184.5,1352,1525.5,1731,1891,2156,2406,2646,2889,3165,3405],
    headLine:3844, headW:4.5, botLine:4299, botW:5, botC:"#000"
  });
  var a = mk("text", {x:86,y:2964,"font-size":54,fill:"#222",textLength:216,lengthAdjust:"spacingAndGlyphs"}, root, "i. Healthy");
  
  
  var b = mk("text", {x:78,y:3762,"font-size":54,fill:"#222",textLength:217,lengthAdjust:"spacingAndGlyphs"}, root, "ii. Allergic");
  
  
})();
</script>
</body>
</html>
